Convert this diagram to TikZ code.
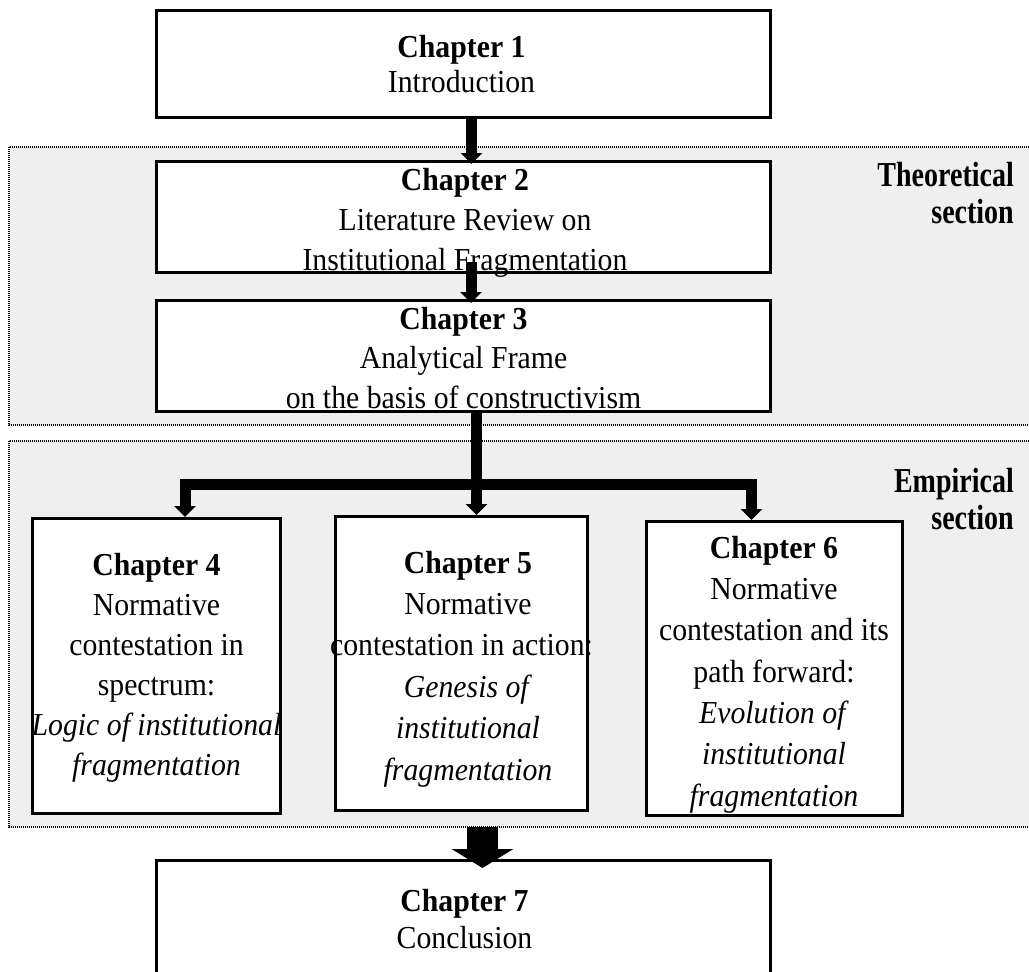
\documentclass[tikz,border=0pt]{standalone}
\usepackage{fontspec}
\setmainfont{Liberation Serif}[FakeStretch=0.93]
\newfontfamily\labfont{Liberation Serif}[FakeStretch=0.80]
\usetikzlibrary{arrows.meta}
\definecolor{sectgray}{HTML}{EFEFEF}

\begin{document}
\begin{tikzpicture}[x=1pt,y=-1pt,
  chapbox/.style={draw, line width=3pt, fill=white, inner sep=0pt},
  boxtext/.style={align=center, inner sep=0pt, anchor=base,
    font=\fontsize{32}{#1}\selectfont},
  boxtext/.default=40,
  sectarea/.style={fill=sectgray, draw=black, line width=2.6pt, dash pattern=on 1.3pt off 0.7pt},
  seclabel/.style={align=right, inner sep=0pt, anchor=base east,
    font=\labfont\bfseries\fontsize{35}{37}\selectfont},
  thinflow/.style={line width=11pt, -{Triangle[width=21pt,length=11pt]}},
  fatflow/.style={line width=31pt, -{Triangle[width=61pt,length=19pt]}}
]
\clip (0,0) rectangle (1029,972);
\fill[white] (0,0) rectangle (1029,972);

% section backgrounds and their labels
\draw[sectarea] (9,147) rectangle (1040,425);
\draw[sectarea] (9,441) rectangle (1040,827);
\node[seclabel] (tlab) at (1014,223) {Theoretical\\section};
\node[seclabel] (elab) at (1014,529) {Empirical\\section};

% chapter boxes
\node[chapbox, minimum width=614pt, minimum height=107pt] (ch1) at (463.5,64) {};
\node[chapbox, minimum width=614pt, minimum height=111pt] (ch2) at (463.5,217) {};
\node[chapbox, minimum width=614pt, minimum height=111pt] (ch3) at (463.5,356) {};
\node[chapbox, minimum width=248pt, minimum height=295pt] (ch4) at (156.5,666) {};
\node[chapbox, minimum width=252pt, minimum height=294pt] (ch5) at (461,663.5) {};
\node[chapbox, minimum width=256pt, minimum height=294pt] (ch6) at (774.5,668.5) {};
\node[chapbox, minimum width=614pt, minimum height=118pt] (ch7) at (463.5,919.5) {};

% chapter texts (placed on the baseline of their last line)
\node[boxtext=35] (ch1t) at (461.5,92) {\textbf{Chapter 1}\\Introduction};
\node[boxtext=40] (ch2t) at (465,270) {\textbf{Chapter 2}\\Literature Review on\\Institutional Fragmentation};
\node[boxtext=39.5] (ch3t) at (463.5,408) {\textbf{Chapter 3}\\Analytical Frame\\on the basis of constructivism};
\node[boxtext=40] (ch4t) at (156.5,775)
  {\textbf{Chapter 4}\\Normative\\contestation in\\spectrum:\\\textit{Logic of institutional}\\\textit{fragmentation}};
\node[boxtext=41.4] (ch5t) at (468,780)
  {\textbf{Chapter 5}\\Normative\\\hspace*{-13pt}contestation in action:\\\textit{Genesis of}\\\textit{institutional}\\\textit{fragmentation}};
\node[boxtext=41.3] (ch6t) at (774,806)
  {\textbf{Chapter 6}\\Normative\\contestation and its\\path forward:\\\textit{Evolution of}\\\textit{institutional}\\\textit{fragmentation}};
\node[boxtext=37] (ch7t) at (464.5,948) {\textbf{Chapter 7}\\Conclusion};

% connector positions
\coordinate (a1) at (471.5,0);
\coordinate (a2) at (471,262);
\coordinate (jL) at (185,484);
\coordinate (jM) at (476.5,484);
\coordinate (jR) at (751.5,484);
\coordinate (emp) at (482.5,827);
\coordinate (c7in) at (482.5,868);

% connectors
\draw[thinflow] (ch1.south -| a1) -- ([yshift=-4pt]ch2.north -| a1);
\draw[thinflow] (a2) -- ([yshift=-4pt]ch3.north -| a2);
\draw[thinflow] (ch3.south -| jM) -- (ch5.north -| jM);
\draw[thinflow] (jM) -| (ch4.north -| jL);
\draw[thinflow] (jM) -| (ch6.north -| jR);
\draw[fatflow] (emp) -- (c7in);
\end{tikzpicture}
\end{document}
